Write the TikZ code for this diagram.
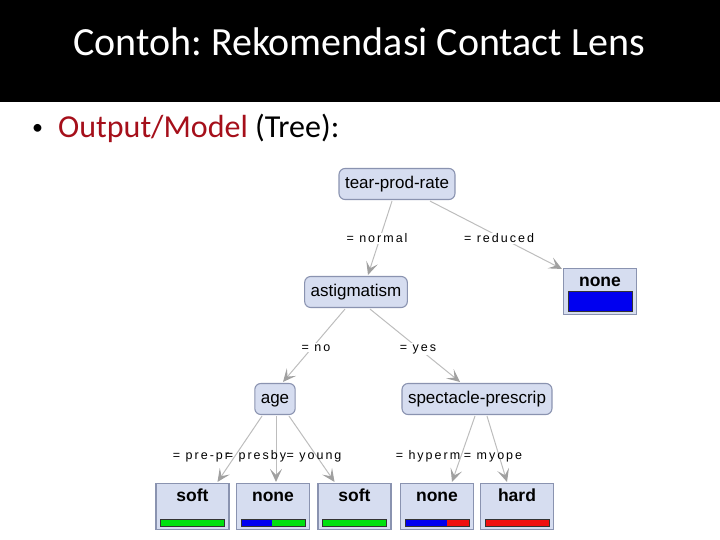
\documentclass[tikz,border=0pt]{standalone}
\usepackage{fontspec}
\setmainfont{Carlito}
\newfontfamily\arialf{Liberation Sans}
\newfontfamily\lblf[LetterSpace=16]{Liberation Sans}
\usetikzlibrary{calc,arrows.meta}
\definecolor{nodefill}{HTML}{D6DDF0}
\definecolor{nodeline}{HTML}{8A93B0}
\definecolor{edgecol}{HTML}{BDBDBD}
\definecolor{tipcol}{HTML}{A0A0A0}
\definecolor{titlered}{HTML}{A50F1A}
\definecolor{barblue}{HTML}{0000F0}
\definecolor{bargreen}{HTML}{00E010}
\definecolor{barred}{HTML}{F01010}
\tikzset{
  inner/.style={draw=nodeline, fill=nodefill, line width=1.1pt, rounded corners=6pt,
    minimum height=31pt, inner xsep=6pt, text height=12.5pt, text depth=3.5pt,
    font=\arialf\fontsize{17}{19}\selectfont},
  leaf/.style={draw=nodeline, fill=nodefill, line width=1.1pt, minimum width=73pt, minimum height=46pt},
  leaftext/.style={font=\arialf\bfseries\fontsize{17.5}{19}\selectfont, inner sep=0pt, anchor=base},
  edge/.style={draw=edgecol, line width=1pt,
    -{Stealth[length=13pt,width=12pt,inset=6pt,fill=tipcol,color=tipcol]}},
  elabel/.style={font=\lblf\fontsize{12.5}{14}\selectfont, fill=white, inner sep=1pt, anchor=base},
  bar/.style={draw=black!80, line width=0.8pt}
}
\begin{document}
\frenchspacing
\begin{tikzpicture}[x=1pt,y=-1pt]
\useasboundingbox (0,0) rectangle (720,540);
\fill[black] (0,0) rectangle (720,102);
\node[text=white, font=\fontsize{40}{44}\selectfont] (title) at (359,42) {Contoh: Rekomendasi Contact Lens};
\node[anchor=west, font=\fontsize{22}{26}\selectfont, inner sep=0pt] (dot) at (32,129) {\textbullet};
\node[anchor=west, font=\fontsize{32}{36}\selectfont, inner sep=0pt] (bullet) at (58,128)
  {\textcolor{titlered}{Output/Model} (Tree):};

% internal nodes
\node[inner] (tear) at (397,184) {tear-prod-rate};
\node[inner] (astig) at (356,292) {astigmatism};
\node[inner] (age) at (275,399) {age};
\node[inner] (spec) at (477,399) {spectacle-prescrip};

% leaves
\node[leaf] (none0) at (600,291.5) {};
\node[leaf] (soft1) at (192.5,506.5) {};
\node[leaf] (none1) at (273,506.5) {};
\node[leaf] (soft2) at (354.5,506.5) {};
\node[leaf] (none2) at (437,506.5) {};
\node[leaf] (hard) at (517,506.5) {};

\node[leaftext] (t0) at ($(none0.north)+(0,18.5)$) {none};
\node[leaftext] (t1) at ($(soft1.north)+(0,19)$) {soft};
\node[leaftext] (t2) at ($(none1.north)+(0,19)$) {none};
\node[leaftext] (t3) at ($(soft2.north)+(0,19)$) {soft};
\node[leaftext] (t4) at ($(none2.north)+(0,19)$) {none};
\node[leaftext] (t5) at ($(hard.north)+(0,19)$) {hard};

% bars
\filldraw[bar, fill=barblue] ($(none0.south west)+(5,-4)$) rectangle ($(none0.south east)+(-5,-24)$);
\filldraw[bar, fill=bargreen] ($(soft1.south west)+(5,-4)$) rectangle ($(soft1.south east)+(-5,-11)$);
\filldraw[bar, fill=bargreen] ($(none1.south west)+(5,-4)$) rectangle ($(none1.south east)+(-5,-11)$);
\fill[barblue] ($(none1.south west)+(5,-4)$) rectangle ($(none1.south west)+(36,-11)$);
\draw[bar] ($(none1.south west)+(5,-4)$) rectangle ($(none1.south east)+(-5,-11)$);
\filldraw[bar, fill=bargreen] ($(soft2.south west)+(5,-4)$) rectangle ($(soft2.south east)+(-5,-11)$);
\filldraw[bar, fill=barred] ($(none2.south west)+(5,-4)$) rectangle ($(none2.south east)+(-5,-11)$);
\fill[barblue] ($(none2.south west)+(5,-4)$) rectangle ($(none2.south west)+(47,-11)$);
\draw[bar] ($(none2.south west)+(5,-4)$) rectangle ($(none2.south east)+(-5,-11)$);
\filldraw[bar, fill=barred] ($(hard.south west)+(5,-4)$) rectangle ($(hard.south east)+(-5,-11)$);

% edges
\draw[edge] ($(tear.south)+(-5,1)$) -- ($(astig.north)+(12,-1)$);
\draw[edge] ($(tear.south)+(33,1)$) -- ($(none0.north west)+(-1,1)$);
\draw[edge] ($(astig.south)+(-11,1)$) -- ($(age.north)+(8,-1)$);
\draw[edge] ($(astig.south)+(14,1)$) -- ($(spec.north)+(-17,-1)$);
\draw[edge] ($(age.south)+(-13,1)$) -- ($(soft1.north)+(25,-1)$);
\draw[edge] ($(age.south)+(1,1)$) -- ($(none1.north)+(3,-1)$);
\draw[edge] ($(age.south)+(14,1)$) -- ($(soft2.north)+(-20,-1)$);
\draw[edge] ($(spec.south)+(-2,1)$) -- ($(none2.north)+(15,-1)$);
\draw[edge] ($(spec.south)+(10,1)$) -- ($(hard.north)+(-10,-1)$);

% edge labels
\node[elabel] (l1) at (377,243) {= normal};
\node[elabel] (l2) at (499,243) {= reduced};
\node[elabel] (l3) at (316,351) {= no};
\node[elabel] (l4) at (418,351) {= yes};
\node[elabel, fill=none] (l5) at (201,459) {= pre-pr};
\node[elabel, fill=none] (l6) at (256,459) {= presby};
\node[elabel, fill=none] (l7) at (314,459) {= young};
\node[elabel, fill=none] (l8) at (428,459) {= hyperm};
\node[elabel, fill=none] (l9) at (493,459) {= myope};
\end{tikzpicture}
\end{document}
